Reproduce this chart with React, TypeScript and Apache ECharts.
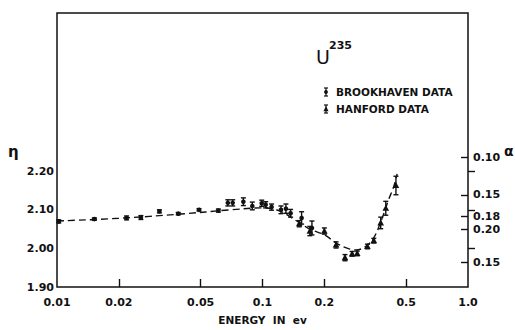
import React, { useEffect, useRef } from "react";
import * as echarts from "echarts";

// ---- data ----
const brookE = [0.0102, 0.0152, 0.0218, 0.0256, 0.0315, 0.0389, 0.0491, 0.061, 0.0678, 0.0716, 0.0807, 0.0892, 0.0991, 0.1036, 0.1107, 0.123, 0.130, 0.137, 0.155, 0.174];
const brookEta = [2.070, 2.076, 2.079, 2.080, 2.096, 2.090, 2.100, 2.098, 2.118, 2.118, 2.121, 2.110, 2.117, 2.113, 2.107, 2.100, 2.103, 2.091, 2.079, 2.053];
const brookErr = [0.004, 0.003, 0.005, 0.005, 0.004, 0.003, 0.003, 0.004, 0.008, 0.008, 0.010, 0.010, 0.008, 0.008, 0.008, 0.010, 0.012, 0.010, 0.016, 0.018];

const hanE = [0.151, 0.170, 0.200, 0.228, 0.252, 0.273, 0.289, 0.324, 0.348, 0.376, 0.398, 0.446];
const hanEta = [2.064, 2.045, 2.045, 2.009, 1.976, 1.986, 1.987, 2.005, 2.020, 2.066, 2.104, 2.163];
const hanErr = [0.008, 0.012, 0.008, 0.008, 0.008, 0.006, 0.006, 0.006, 0.006, 0.015, 0.018, 0.024];

const curveE = [0.01, 0.02, 0.04, 0.07, 0.1, 0.12, 0.15, 0.17, 0.2, 0.23, 0.26, 0.285, 0.32, 0.35, 0.38, 0.41, 0.435, 0.452];
const curveEta = [2.071, 2.078, 2.089, 2.100, 2.105, 2.098, 2.068, 2.050, 2.035, 2.013, 2.000, 1.996, 2.006, 2.030, 2.075, 2.125, 2.160, 2.193];

const xTickVals = [0.01, 0.02, 0.05, 0.1, 0.2, 0.5, 1.0];
const xTickLabels = ["0.01", "0.02", "0.05", "0.1", "0.2", "0.5", "1.0"];
const etaTicks = [1.9, 2.0, 2.1, 2.2];
const etaLabels = ["1.90", "2.00", "2.10", "2.20"];
const alphaPos = [2.235, 2.139, 2.083, 2.050, 1.964];
const alphaLabels = ["0.10", "0.15", "0.18", "0.20", "0.15"];

const INK = "#111";
const FONT = "DejaVu Sans";

function nearestLabel(v: number, vals: number[], labels: string[]) {
  let best = 0;
  for (let i = 1; i < vals.length; i++) {
    if (Math.abs(vals[i] - v) < Math.abs(vals[best] - v)) best = i;
  }
  return labels[best];
}

function makeErrRender(kind: "dot" | "tri") {
  return (params: any, api: any) => {
    const x = api.value(0);
    const y = api.value(1);
    const e = api.value(2);
    const c = api.coord([x, y]);
    const top = api.coord([x, y + e]);
    const bot = api.coord([x, y - e]);
    const cap = 2.5;
    const st = { stroke: INK, lineWidth: 1.4 };
    const children: any[] = [
      { type: "line", shape: { x1: c[0], y1: top[1], x2: c[0], y2: bot[1] }, style: st },
      { type: "line", shape: { x1: c[0] - cap, y1: top[1], x2: c[0] + cap, y2: top[1] }, style: st },
      { type: "line", shape: { x1: c[0] - cap, y1: bot[1], x2: c[0] + cap, y2: bot[1] }, style: st },
    ];
    if (kind === "dot") {
      children.push({ type: "circle", shape: { cx: c[0], cy: c[1], r: 2.3 }, style: { fill: INK } });
    } else {
      children.push({
        type: "polygon",
        shape: { points: [[c[0], c[1] - 3.6], [c[0] - 3.3, c[1] + 2.6], [c[0] + 3.3, c[1] + 2.6]] },
        style: { fill: INK },
      });
    }
    return { type: "group", children };
  };
}

function legendIcon(x: number, y: number, kind: "dot" | "tri") {
  const st = { stroke: INK, lineWidth: 1.2 };
  const ch: any[] = [
    { type: "line", shape: { x1: x, y1: y - 4, x2: x, y2: y + 4 }, style: st },
    { type: "line", shape: { x1: x - 2, y1: y - 4, x2: x + 2, y2: y - 4 }, style: st },
    { type: "line", shape: { x1: x - 2, y1: y + 4, x2: x + 2, y2: y + 4 }, style: st },
  ];
  if (kind === "dot") ch.push({ type: "circle", shape: { cx: x, cy: y, r: 1.9 }, style: { fill: INK } });
  else ch.push({ type: "polygon", shape: { points: [[x, y - 2.8], [x - 2.6, y + 2.2], [x + 2.6, y + 2.2]] }, style: { fill: INK } });
  return { type: "group", children: ch };
}

export default function App() {
  const ref = useRef<HTMLDivElement>(null);
  useEffect(() => {
    if (!ref.current) return;
    const chart = echarts.init(ref.current, null, { renderer: "svg" });
    const labelStyle = { color: INK, fontFamily: FONT, fontSize: 11, fontWeight: "bold" as const };
    chart.setOption({
      animation: false,
      backgroundColor: "#fff",
      grid: { left: 57, right: 47, top: 13, bottom: 36, show: true, borderColor: INK, borderWidth: 1.5, backgroundColor: "transparent" },
      xAxis: [
        {
          type: "log", logBase: 10, min: 0.01, max: 1,
          axisLine: { show: false }, axisTick: { show: false }, axisLabel: { show: false }, splitLine: { show: false }, minorTick: { show: false },
        },
        {
          type: "value", min: -2, max: 0, position: "bottom",
          axisLine: { show: false }, splitLine: { show: false },
          axisTick: { show: true, inside: true, length: 8, lineStyle: { color: INK, width: 1.4 }, customValues: xTickVals.slice(1, -1).map((v) => Math.log10(v)) },
          axisLabel: {
            ...labelStyle, margin: 10,
            customValues: xTickVals.map((v) => Math.log10(v)),
            formatter: (v: number) => nearestLabel(v, xTickVals.map((t) => Math.log10(t)), xTickLabels),
          },
          name: "ENERGY  IN  ev", nameLocation: "middle", nameGap: 27,
          nameTextStyle: { color: INK, fontFamily: FONT, fontSize: 10.5, fontWeight: "bold" },
        },
      ],
      yAxis: [
        {
          type: "value", min: 1.9, max: 2.61, position: "left",
          axisLine: { show: false }, splitLine: { show: false },
          axisTick: { show: true, inside: true, length: 7, lineStyle: { color: INK, width: 1.4 }, customValues: etaTicks.slice(1) },
          axisLabel: { ...labelStyle, margin: 3, customValues: etaTicks, formatter: (v: number) => nearestLabel(v, etaTicks, etaLabels) },
        },
        {
          type: "value", min: 1.9, max: 2.61, position: "right",
          axisLine: { show: false }, splitLine: { show: false },
          axisTick: { show: true, inside: true, length: 7, lineStyle: { color: INK, width: 1.4 }, customValues: alphaPos },
          axisLabel: { ...labelStyle, margin: 5, customValues: alphaPos, formatter: (v: number) => nearestLabel(v, alphaPos, alphaLabels) },
        },
      ],
      series: [
        {
          type: "line", name: "curve", xAxisIndex: 0, yAxisIndex: 0,
          data: curveE.map((e, i) => [e, curveEta[i]]),
          smooth: 0.35, showSymbol: false, symbol: "none",
          lineStyle: { color: INK, width: 1.4, type: [7, 4] },
          silent: true,
        },
        {
          type: "custom", name: "BROOKHAVEN DATA", xAxisIndex: 0, yAxisIndex: 0,
          data: brookE.map((e, i) => [e, brookEta[i], brookErr[i]]),
          renderItem: makeErrRender("dot"),
          encode: { x: 0, y: 1 },
        },
        {
          type: "custom", name: "HANFORD DATA", xAxisIndex: 0, yAxisIndex: 0,
          data: hanE.map((e, i) => [e, hanEta[i], hanErr[i]]),
          renderItem: makeErrRender("tri"),
          encode: { x: 0, y: 1 },
        },
      ],
      graphic: [
        { type: "text", left: 8, top: 144, style: { text: "η", fill: INK, font: `bold 15px ${FONT}` } },
        { type: "text", left: 504, top: 144, style: { text: "α", fill: INK, font: `bold 14px ${FONT}` } },
        { type: "text", left: 316, top: 47, style: { text: "U", fill: INK, font: `19px ${FONT}` } },
        { type: "text", left: 329, top: 40, style: { text: "235", fill: INK, font: `bold 11px ${FONT}` } },
        legendIcon(326, 92, "dot"),
        legendIcon(326, 109, "tri"),
        { type: "text", left: 336, top: 86, style: { text: "BROOKHAVEN DATA", fill: INK, font: `bold 10.5px ${FONT}` } },
        { type: "text", left: 336, top: 103, style: { text: "HANFORD DATA", fill: INK, font: `bold 10.5px ${FONT}` } },
      ],
    });
    return () => chart.dispose();
  }, []);
  return <div ref={ref} style={{ width: 515, height: 330, position: "absolute", left: 0, top: 0 }} />;
}
